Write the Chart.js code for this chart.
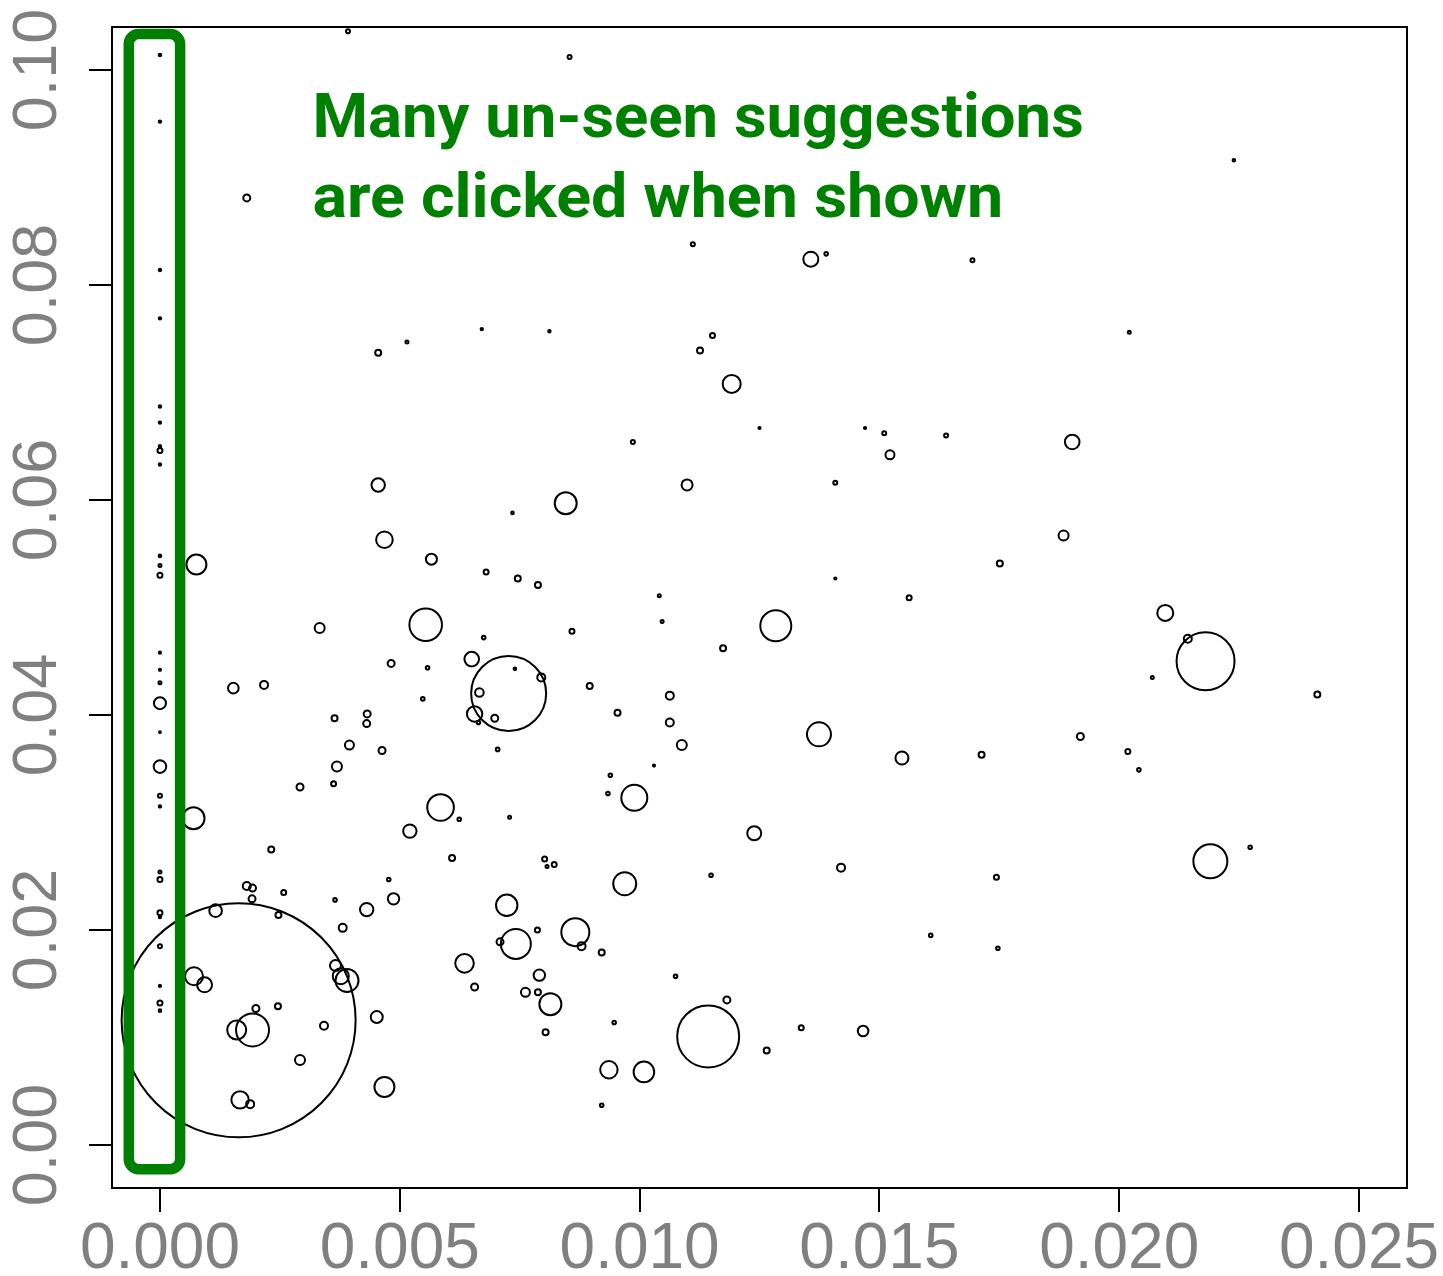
<!DOCTYPE html>
<html>
<head>
<meta charset="utf-8">
<script src="https://cdn.jsdelivr.net/npm/chart.js@4.4.1/dist/chart.umd.min.js"></script>
<style>
  html, body { margin: 0; padding: 0; background: #ffffff; }
  #wrap { width: 1443px; height: 1276px; }
</style>
</head>
<body>
<div id="wrap"><canvas id="c" width="1443" height="1276"></canvas></div>
<script>
// ---------------- data ----------------
const xTickValues = [0, 0.005, 0.010, 0.015, 0.020, 0.025];
const xTickLabels = ['0.000', '0.005', '0.010', '0.015', '0.020', '0.025'];
const yTickValues = [0, 0.02, 0.04, 0.06, 0.08, 0.10];
const yTickLabels = ['0.00', '0.02', '0.04', '0.06', '0.08', '0.10'];

// points seen with x = 0 (never shown before)
const unseenY = [0.1014, 0.0952, 0.0814, 0.0769, 0.0687, 0.0672, 0.0650, 0.0646, 0.0633,
                 0.0548, 0.0539, 0.0530, 0.0458, 0.0442, 0.0430, 0.0411, 0.0384, 0.0352,
                 0.0325, 0.0315, 0.0254, 0.0247, 0.0216, 0.0212, 0.0185, 0.0148, 0.0132, 0.0125];
const unseenW = [1.3, 1.2, 1.2, 1.2, 1.2, 1.2, 1.2, 2.5, 1.2,
                 1.3, 1.5, 2.5, 1.1, 1.1, 1.5, 6, 0.9, 6.3,
                 2, 1.2, 1.5, 2.5, 2.5, 1.2, 2, 1.1, 2.5, 1.3];

// remaining suggestions: x, y and bubble weight
const seenX = [0.00392, 0.00181, 0.00455, 0.00515, 0.00671, 0.00812, 0.00854, 0.01111, 0.01357, 0.01389,
  0.01694, 0.01152, 0.01126, 0.01192, 0.02239, 0.02021, 0.00986, 0.01250, 0.01470, 0.01510,
  0.01639, 0.01522, 0.01099, 0.01408, 0.00846, 0.00788, 0.01041, 0.01047, 0.00859, 0.01284,
  0.01408, 0.01562, 0.01174, 0.00896, 0.01063, 0.00954, 0.01063, 0.01088, 0.01374, 0.01547,
  0.01713, 0.01030, 0.00939, 0.00934, 0.00989, 0.01902, 0.01884, 0.01751, 0.02096, 0.02143,
  0.02180, 0.02069, 0.02413, 0.01919, 0.02018, 0.02041, 0.01744, 0.01747, 0.02190, 0.02273,
  0.01239, 0.01420, 0.01149, 0.00802, 0.00807, 0.00822, 0.00969, 0.00866, 0.00879, 0.00921,
  0.01075, 0.00791, 0.00814, 0.00804, 0.00947, 0.01182, 0.01143, 0.01337, 0.01265, 0.01466,
  0.00936, 0.01009, 0.00921, 0.01607, 0.00787, 0.00070, 0.00232, 0.00181, 0.00193, 0.00192,
  0.00258, 0.00116, 0.00247, 0.00164, 0.00071, 0.00093, 0.00200, 0.00246, 0.00160, 0.00193,
  0.00342, 0.00292, 0.00452, 0.00468, 0.00167, 0.00188, 0.00585, 0.00624, 0.00729, 0.00521,
  0.00609, 0.00477, 0.00487, 0.00431, 0.00365, 0.00381, 0.00723, 0.00742, 0.00709, 0.00635,
  0.00656, 0.00762, 0.00788, 0.00366, 0.00377, 0.00390, 0.00455, 0.00468, 0.00566, 0.00735,
  0.00680, 0.00746, 0.00076, 0.00333, 0.00554, 0.00675, 0.00650, 0.00727, 0.00740, 0.00795,
  0.00666, 0.00656, 0.00698, 0.00664, 0.00558, 0.00482, 0.00548, 0.00704, 0.00153, 0.00217,
  0.00364, 0.00432, 0.00431, 0.00395, 0.00463, 0.00369, 0.00292, 0.00362];
const seenY = [0.1036, 0.0881, 0.0737, 0.0747, 0.0759, 0.0757, 0.1012, 0.0838, 0.0824, 0.0829,
  0.0823, 0.0753, 0.0739, 0.0708, 0.0916, 0.0756, 0.0654, 0.0667, 0.0667, 0.0662,
  0.0660, 0.0642, 0.0614, 0.0616, 0.0597, 0.0521, 0.0511, 0.0487, 0.0478, 0.0483,
  0.0527, 0.0509, 0.0462, 0.0427, 0.0418, 0.0402, 0.0393, 0.0372, 0.0382, 0.0360,
  0.0363, 0.0353, 0.0344, 0.0327, 0.0323, 0.0654, 0.0567, 0.0541, 0.0495, 0.0471,
  0.0450, 0.0435, 0.0419, 0.0380, 0.0366, 0.0349, 0.0249, 0.0183, 0.0264, 0.0277,
  0.0290, 0.0258, 0.0251, 0.0266, 0.0259, 0.0261, 0.0243, 0.0198, 0.0185, 0.0179,
  0.0157, 0.0158, 0.0131, 0.0105, 0.0114, 0.0135, 0.0101, 0.0109, 0.0088, 0.0106,
  0.0070, 0.0068, 0.0037, 0.0195, 0.0200, 0.0304, 0.0275, 0.0241, 0.0239, 0.0229,
  0.0235, 0.0218, 0.0214, 0.0116, 0.0157, 0.0149, 0.0127, 0.0129, 0.0107, 0.0107,
  0.0111, 0.0079, 0.0119, 0.0054, 0.0042, 0.0038, 0.0314, 0.0303, 0.0305, 0.0292,
  0.0267, 0.0247, 0.0229, 0.0219, 0.0228, 0.0202, 0.0223, 0.0187, 0.0189, 0.0169,
  0.0147, 0.0142, 0.0142, 0.0167, 0.0157, 0.0153, 0.0614, 0.0563, 0.0545, 0.0588,
  0.0533, 0.0527, 0.0540, 0.0481, 0.0484, 0.0472, 0.0452, 0.0420, 0.0443, 0.0435,
  0.0421, 0.0401, 0.0397, 0.0393, 0.0444, 0.0448, 0.0415, 0.0368, 0.0425, 0.0428,
  0.0397, 0.0401, 0.0392, 0.0372, 0.0367, 0.0352, 0.0333, 0.0336];
const seenW = [2, 3.5, 3, 1.5, 1.2, 1.2, 2, 2, 7.5, 1.8,
  2, 2.5, 3, 9, 1.3, 1.5, 2, 1.1, 1.1, 2,
  2, 4.5, 5.5, 2, 11, 3, 1.5, 1.5, 2.5, 15.5,
  1.1, 2.5, 3, 3, 4, 3, 4, 5, 12, 6.5,
  3, 1.1, 1.8, 1.8, 13, 7.3, 5, 3, 8, 4,
  29, 1.5, 3, 3.5, 2.5, 1.8, 2.5, 1.8, 17, 1.8,
  7, 4, 1.8, 2.5, 1.5, 2.5, 11.5, 14, 4, 3,
  1.8, 5.7, 11, 3, 1.8, 3.5, 31, 2.5, 3, 5.3,
  8.7, 10.3, 1.8, 1.8, 2.5, 11, 3, 4, 3.5, 3.5,
  2.5, 6.3, 3, 117, 9, 7.5, 3.5, 3, 9.5, 16.5,
  4, 5, 6, 10, 8.7, 4, 13.3, 1.8, 1.5, 6.7,
  3, 1.8, 5.7, 6.7, 1.8, 4, 10.7, 15, 3.5, 9.3,
  3.5, 4.5, 3, 5.5, 8, 11.5, 6.7, 8.3, 5.5, 1.3,
  2.5, 3, 10, 5, 16.3, 1.8, 7.3, 37.5, 1.3, 4,
  4.3, 7.7, 3.5, 1.8, 1.8, 3.5, 1.8, 1.8, 5.3, 4,
  3, 3.5, 3.5, 4.5, 3.5, 5, 3.5, 2.5];

// annotation
const noteLines = ['Many un-seen suggestions', 'are clicked when shown'];
const noteX = 0.00318;              // data units
const noteBaselines = [0.0938, 0.0863];
const noteWidths = [0.01608, 0.01440]; // line widths in x data units
const boxX = [-0.00065, 0.00042];
const boxY = [-0.00225, 0.10335];

// ---------------- chart ----------------
const RADIUS_PER_WEIGHT = 1;
const points = [];
unseenY.forEach((y, i) => points.push({ x: 0, y: y, r: unseenW[i] * RADIUS_PER_WEIGHT }));
seenX.forEach((x, i) => points.push({ x: x, y: seenY[i], r: seenW[i] * RADIUS_PER_WEIGHT }));

const GREEN = '#008000';
const GRAY = '#808080';

const framePlugin = {
  id: 'frameAndNote',
  afterDatasetsDraw(chart) {
    const { ctx, chartArea: a, scales: { x, y } } = chart;
    ctx.save();
    // plot frame
    ctx.strokeStyle = '#000';
    ctx.lineWidth = 2;
    ctx.strokeRect(a.left, a.top, a.right - a.left, a.bottom - a.top);

    // green rounded box
    const bx0 = x.getPixelForValue(boxX[0]), bx1 = x.getPixelForValue(boxX[1]);
    const by0 = y.getPixelForValue(boxY[1]), by1 = y.getPixelForValue(boxY[0]);
    ctx.strokeStyle = GREEN;
    ctx.lineWidth = 10.5;
    ctx.beginPath();
    ctx.roundRect(bx0, by0, bx1 - bx0, by1 - by0, 10);
    ctx.stroke();

    // text
    ctx.fillStyle = GREEN;
    ctx.font = 'bold 62px Roboto, "Noto Sans", sans-serif';
    ctx.textBaseline = 'alphabetic';
    ctx.textAlign = 'left';
    const tx = x.getPixelForValue(noteX);
    noteLines.forEach((line, i) => {
      const ty = y.getPixelForValue(noteBaselines[i]);
      const target = x.getPixelForValue(noteX + noteWidths[i]) - tx;
      const w = ctx.measureText(line).width;
      ctx.save();
      ctx.translate(tx, ty);
      ctx.scale(target / w, 1);
      ctx.fillText(line, 0, 0);
      ctx.restore();
    });
    ctx.restore();
  }
};

function zeroPad(s) {
  s.paddingTop = 0; s.paddingBottom = 0; s.paddingLeft = 0; s.paddingRight = 0;
}

new Chart(document.getElementById('c'), {
  type: 'bubble',
  data: {
    datasets: [{
      data: points,
      borderColor: '#000000',
      backgroundColor: 'rgba(0,0,0,0)',
      borderWidth: 2,
      hoverBorderWidth: 2,
      clip: false
    }]
  },
  options: {
    responsive: false,
    devicePixelRatio: 1,
    animation: false,
    events: [],
    layout: { autoPadding: false, padding: { top: 27, right: 36, bottom: 0, left: 0 } },
    plugins: { legend: { display: false }, tooltip: { enabled: false } },
    scales: {
      x: {
        type: 'linear',
        min: -0.001, max: 0.026,
        afterBuildTicks: s => { s.ticks = xTickValues.map(v => ({ value: v })); },
        afterFit: s => { s.height = 88; zeroPad(s); },
        border: { display: false },
        grid: { display: true, drawOnChartArea: false, drawTicks: true, tickLength: 24, color: '#000', lineWidth: 2 },
        ticks: {
          autoSkip: false, maxRotation: 0, minRotation: 0,
          padding: 0,
          color: GRAY,
          font: { family: '"Liberation Sans", Arial, sans-serif', size: 64 },
          callback: (v, i) => xTickLabels[i]
        }
      },
      y: {
        type: 'linear',
        min: -0.004, max: 0.104,
        afterBuildTicks: s => { s.ticks = yTickValues.map(v => ({ value: v })); },
        afterFit: s => { s.width = 112; zeroPad(s); },
        border: { display: false },
        grid: { display: true, drawOnChartArea: false, drawTicks: true, tickLength: 23, color: '#000', lineWidth: 2 },
        ticks: {
          autoSkip: false, minRotation: 90, maxRotation: 90,
          crossAlign: 'center',
          padding: -11,
          color: GRAY,
          font: { family: '"Liberation Sans", Arial, sans-serif', size: 63 },
          callback: (v, i) => yTickLabels[i]
        }
      }
    }
  },
  plugins: [framePlugin]
});
</script>
</body>
</html>
